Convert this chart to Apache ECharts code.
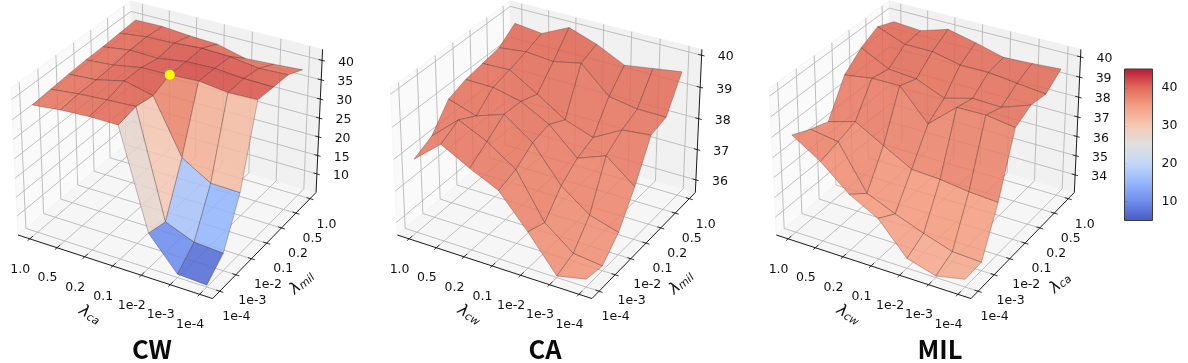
<!DOCTYPE html>
<html><head><meta charset="utf-8"><style>html,body{margin:0;padding:0;background:#fff}#c{width:1188px;height:363px}</style>
<script src="https://cdn.jsdelivr.net/npm/echarts@6/dist/echarts.min.js"></script></head><body><div id="c"></div>
<script>
const lambdaTicks = ['1.0','0.5','0.2','0.1','1e-2','1e-3','1e-4'];
const depthTicks = ['1e-4','1e-3','1e-2','0.1','0.2','0.5','1.0'];
// rows: depth axis from 1e-4 (first) to 1.0 (last); columns: front axis from 1.0 to 1e-4
const CW = [
[38.0,38.8,39.2,39.2,14.1,5.8,5.4],
[38.5,39.3,39.8,40.2,13.0,10.0,9.5],
[38.9,39.4,41.1,39.4,25.8,21.4,21.2],
[39.2,39.8,41.1,41.2,41.6,40.7,40.9],
[39.3,40.3,40.1,41.2,41.4,40.8,40.6],
[39.6,40.5,40.7,41.3,41.0,40.0,40.3],
[39.9,40.0,39.4,39.1,37.3,37.7,38.2]];
const CA = [
[37.92,38.65,38.17,37.75,36.74,35.63,35.83],
[38.20,38.96,38.54,37.94,36.54,35.84,35.73],
[38.93,38.65,38.95,38.32,37.23,36.57,36.30],
[39.13,39.12,38.92,38.45,37.64,37.98,37.27],
[39.23,39.26,38.73,38.16,37.85,38.34,38.44],
[39.33,39.43,39.35,39.53,38.72,38.57,38.56],
[39.72,39.62,40.03,39.73,39.30,39.43,39.56]];
const MIL = [
[37.99,37.09,35.89,35.13,33.57,33.15,33.46],
[37.57,37.36,35.19,34.58,34.04,33.57,33.50],
[37.26,37.66,36.86,36.09,36.01,35.82,35.73],
[38.93,39.14,39.15,37.65,38.86,38.88,38.67],
[39.65,38.95,38.83,38.25,38.63,38.58,39.08],
[40.08,39.55,39.55,39.25,39.26,39.09,38.95],
[39.72,39.62,40.04,39.73,39.36,39.43,39.52]];
const cwZTicks = [10,15,20,25,30,35,40];
const caZTicks = [36,37,38,39,40];
const milZTicks = [34,35,36,37,38,39,40];
const colorbarTicks = [10,20,30,40];
const coolwarm = [[59,76,192],[98,130,234],[141,176,254],[192,212,245],[221,221,221],[245,196,173],[244,152,122],[222,96,77],[180,4,38]];
const highlight = [[3,3]];

const panels = [
 {title:'CW', z:CW, zTicks:cwZTicks, zlim:[4.9,42.8], ox:0, front:'ca', depth:'mil', tx:152},
 {title:'CA', z:CA, zTicks:caZTicks, zlim:[35.58,40.18], ox:379.3, front:'cw', depth:'mil', tx:545},
 {title:'MIL', z:MIL, zTicks:milZTicks, zlim:[33.07,40.37], ox:758.3, front:'cw', depth:'ca', tx:940}
];
const vmin=5, vmax=45, alpha=0.85;
function cmap(v){let t=Math.max(0,Math.min(1,(v-vmin)/(vmax-vmin)))*8;const k=Math.min(7,Math.floor(t)),f=t-k;
 return coolwarm[k].map((c,n)=>Math.round(c+(coolwarm[k+1][n]-c)*f));}

// matplotlib style camera
const M=0.4375, LO=-M, HI=6+M;
const f=1.8294640721620434*25/24/Math.hypot(4,4,3), bx=[4*f,4*f,3*f], R=bx.map(v=>v/2);
const el=30*Math.PI/180, az=-60*Math.PI/180;
const w=[Math.cos(el)*Math.cos(az),Math.cos(el)*Math.sin(az),Math.sin(el)];
const un=Math.hypot(w[0],w[1]), u=[-w[1]/un,w[0]/un,0];
const v=[w[1]*u[2]-w[2]*u[1],w[2]*u[0]-w[0]*u[2],w[0]*u[1]-w[1]*u[0]];
function cam(x,y,z,zl){const p=[(x-LO)/(HI-LO)*bx[0]-R[0],(y-LO)/(HI-LO)*bx[1]-R[1],(z-zl[0])/(zl[1]-zl[0])*bx[2]-R[2]];
 const d=10-(p[0]*w[0]+p[1]*w[1]+p[2]*w[2]);
 return [(p[0]*u[0]+p[1]*u[1])/d,(p[0]*v[0]+p[1]*v[1]+p[2]*v[2])/d,d];}
const S=1873, c0=cam(LO,LO,0,[0,1]), X0=18-S*c0[0], Y0=235+S*c0[1];
function proj(P,x,y,z){const c=cam(x,y,z,P.zlim);return [P.ox+X0+S*c[0],Y0-S*c[1]];}

const series=[];
function custom(data,render,name){series.push({type:'custom',name,coordinateSystem:'none',silent:true,animation:false,data,renderItem:render,clip:false});}
const INK='#1a1a1a', GRID='#b8b8b8';
panels.forEach(P=>{
 const zl=P.zlim;
 // panes
 custom([[0],[1],[2]],(p,api)=>{const k=api.value(0);
   const pts=k===0?[[LO,LO,zl[0]],[LO,HI,zl[0]],[LO,HI,zl[1]],[LO,LO,zl[1]]]
     :k===1?[[LO,HI,zl[0]],[HI,HI,zl[0]],[HI,HI,zl[1]],[LO,HI,zl[1]]]
     :[[LO,LO,zl[0]],[HI,LO,zl[0]],[HI,HI,zl[0]],[LO,HI,zl[0]]];
   return {type:'polygon',shape:{points:pts.map(q=>proj(P,...q))},style:{fill:['#fafafa','#f1f1f1','#f6f6f6'][k],stroke:'#f0f0f0',lineWidth:0.6}};},P.title+' panes');
 // gridlines
 const gd=[];
 lambdaTicks.forEach((_,i)=>gd.push([0,i]));depthTicks.forEach((_,j)=>gd.push([1,j]));P.zTicks.forEach(t=>gd.push([2,t]));
 custom(gd,(p,api)=>{const k=api.value(0),t=api.value(1);
   const pts=k===0?[[t,LO,zl[0]],[t,HI,zl[0]],[t,HI,zl[1]]]
     :k===1?[[HI,t,zl[0]],[LO,t,zl[0]],[LO,t,zl[1]]]
     :[[LO,LO,t],[LO,HI,t],[HI,HI,t]];
   return {type:'polyline',shape:{points:pts.map(q=>proj(P,...q))},style:{fill:'none',stroke:GRID,lineWidth:0.9}};},P.title+' grid');
 // surface quads, far to near
 const quads=[];
 for(let j=0;j<6;j++)for(let i=0;i<6;i++){
   const q=[P.z[j][i],P.z[j][i+1],P.z[j+1][i+1],P.z[j+1][i]];
   const d=[[i,j,q[0]],[i+1,j,q[1]],[i+1,j+1,q[2]],[i,j+1,q[3]]].map(a=>cam(a[0],a[1],a[2],zl)[2]);
   quads.push({d:d.reduce((s,a)=>s+a,0)/4,value:[i,j,...q]});
 }
 quads.sort((a,b)=>b.d-a.d);
 custom(quads.map(q=>q.value),(p,api)=>{const i=api.value(0),j=api.value(1),q=[2,3,4,5].map(n=>api.value(n));
   const avg=(q[0]+q[1]+q[2]+q[3])/4,c=cmap(avg);
   return {type:'polygon',shape:{points:[proj(P,i,j,q[0]),proj(P,i+1,j,q[1]),proj(P,i+1,j+1,q[2]),proj(P,i,j+1,q[3])]},
     style:{fill:`rgba(${c[0]},${c[1]},${c[2]},${alpha})`,stroke:'rgba(40,25,25,0.55)',lineWidth:0.5}};},P.title+' surface');
 // axes
 const ad=[[0,0],[1,0],[2,0]];
 lambdaTicks.forEach((_,i)=>ad.push([3,i]));depthTicks.forEach((_,j)=>ad.push([4,j]));P.zTicks.forEach(t=>ad.push([5,t]));
 custom(ad,(p,api)=>{const k=api.value(0),t=api.value(1);
   const a=k===0?[[LO,LO,zl[0]],[HI,LO,zl[0]]]:k===1?[[HI,LO,zl[0]],[HI,HI,zl[0]]]:k===2?[[HI,HI,zl[0]],[HI,HI,zl[1]]]
     :k===3?[[t,LO-0.12,zl[0]],[t,LO+0.18,zl[0]]]:k===4?[[HI-0.12,t,zl[0]],[HI+0.12,t,zl[0]]]:[[HI-0.12,HI,t],[HI+0.1,HI,t]];
   const s=proj(P,...a[0]),e=proj(P,...a[1]);
   return {type:'line',shape:{x1:s[0],y1:s[1],x2:e[0],y2:e[1]},style:{stroke:INK,lineWidth:k<3?1:0.9}};},P.title+' axes');
 // tick labels
 const ld=[];
 lambdaTicks.forEach((_,i)=>ld.push([0,i]));depthTicks.forEach((_,j)=>ld.push([1,j]));P.zTicks.forEach(t=>ld.push([2,t]));
 custom(ld,(p,api)=>{const k=api.value(0),t=api.value(1);
   const a=k===0?proj(P,t,LO,zl[0]):k===1?proj(P,HI,t,zl[0]):proj(P,HI,HI,t);
   const o=k===0?[-9.5,30.5]:k===1?[16.5,26]:[24,2];
   return {type:'text',x:a[0]+o[0],y:a[1]+o[1],style:{text:k===0?lambdaTicks[t]:k===1?depthTicks[t]:String(t),fill:'#111',font:"12.5px 'DejaVu Sans'",align:'center',verticalAlign:'middle'}};},P.title+' tick labels');
 // axis names
 custom([[0],[1]],(p,api)=>{const k=api.value(0);
   const rich={a:{font:"italic 16px 'DejaVu Sans'",fill:'#111'},b:{font:"italic 11px 'DejaVu Sans'",fill:'#111',verticalAlign:'bottom',padding:[5,0,0,0]}};
   return {type:'text',x:P.ox+(k===0?90:302),y:k===0?315:283,rotation:k===0?-0.55:0.72,
     style:{text:`{a|λ}{b|${k===0?P.front:P.depth}}`,rich,align:'center',verticalAlign:'middle'}};},P.title+' axis names');
});
// highlighted point on the CW panel
custom(highlight,(p,api)=>{const i=api.value(0),j=api.value(1),c=proj(panels[0],i,j,CW[j][i]);
 return {type:'circle',shape:{cx:c[0],cy:c[1],r:5},style:{fill:'#ffff00'}};},'highlight');
// colorbar
const stops=coolwarm.map((c,n)=>({offset:1-n/8,color:`rgba(${c[0]},${c[1]},${c[2]},0.93)`}));
series.push({type:'custom',name:'colorbar',coordinateSystem:'cartesian2d',silent:true,animation:false,xAxisIndex:0,yAxisIndex:0,data:[[0,vmin,1,vmax]],
 renderItem:(p,api)=>{const a=api.coord([api.value(0),api.value(1)]),b=api.coord([api.value(2),api.value(3)]);
  return {type:'rect',shape:{x:a[0],y:b[1],width:b[0]-a[0],height:a[1]-b[1]},style:{fill:new echarts.graphic.LinearGradient(0,0,0,1,stops.slice().sort((x,y)=>x.offset-y.offset)),stroke:'#3a3a3a',lineWidth:1}};}});
const chart=echarts.init(document.getElementById('c'),null,{renderer:'canvas'});
chart.setOption({animation:false,backgroundColor:'#fff',
 title:panels.map(P=>({text:P.title,left:P.tx,top:334,textAlign:'center',textStyle:{fontFamily:"'Noto Sans CJK SC'",fontSize:25.5,fontWeight:'bold',color:'#0a0a0a',lineHeight:30},padding:0})),
 grid:{left:1124.5,top:69,width:28,height:151.5,containLabel:false},
 xAxis:{type:'value',min:0,max:1,show:false},
 yAxis:{type:'value',min:vmin,max:vmax,position:'right',splitLine:{show:false},axisLine:{show:false},
  axisTick:{show:true,length:3.5,customValues:colorbarTicks,lineStyle:{color:'#222',width:0.9}},
  axisLabel:{customValues:colorbarTicks,color:'#111',fontSize:12.5,fontFamily:"'DejaVu Sans'",margin:9}},
 series});
</script></body></html>
